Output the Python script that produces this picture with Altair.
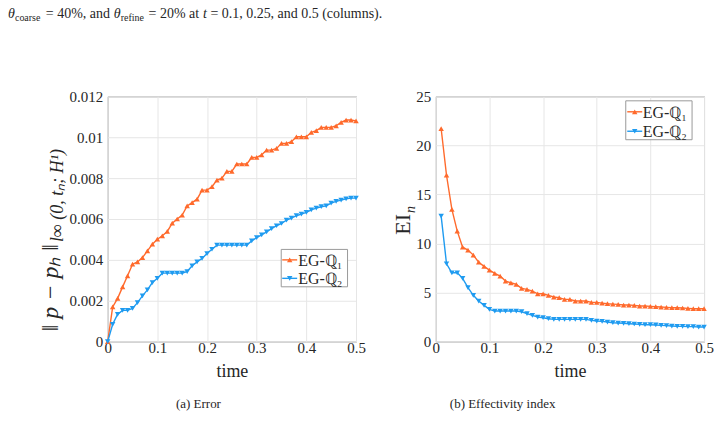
import altair as alt
import pandas as pd

# ---- data ---------------------------------------------------------------
time_err = [0.00, 0.01, 0.02, 0.03, 0.04, 0.05, 0.06, 0.07, 0.08, 0.09,
            0.10, 0.11, 0.12, 0.13, 0.14, 0.15, 0.16, 0.17, 0.18, 0.19,
            0.20, 0.21, 0.22, 0.23, 0.24, 0.25, 0.26, 0.27, 0.28, 0.29,
            0.30, 0.31, 0.32, 0.33, 0.34, 0.35, 0.36, 0.37, 0.38, 0.39,
            0.40, 0.41, 0.42, 0.43, 0.44, 0.45, 0.46, 0.47, 0.48, 0.49,
            0.50]

err_q1 = [0.0, 0.0017, 0.00212, 0.00268, 0.00322, 0.00379, 0.0039, 0.00411, 0.00444, 0.00477,
          0.00501, 0.00518, 0.00539, 0.0058, 0.006, 0.00619, 0.00664, 0.0068, 0.00697, 0.00741,
          0.00741, 0.00758, 0.0079, 0.008, 0.00833, 0.00833, 0.00869, 0.00869, 0.00869, 0.00901,
          0.00901, 0.00914, 0.00937, 0.00937, 0.00945, 0.0097, 0.0097, 0.00978, 0.01002, 0.01002,
          0.01002, 0.01024, 0.01032, 0.01048, 0.01048, 0.01048, 0.01056, 0.01073, 0.01084, 0.01084,
          0.0108]

err_q2 = [0.0, 0.00085, 0.00134, 0.00153, 0.00153, 0.00163, 0.00191, 0.00224, 0.00253, 0.00289,
          0.0031, 0.00335, 0.00335, 0.00335, 0.00335, 0.00335, 0.00343, 0.00371, 0.0039, 0.00407,
          0.00431, 0.00452, 0.00472, 0.00472, 0.00472, 0.00472, 0.00472, 0.00472, 0.00472, 0.00493,
          0.00509, 0.00522, 0.00537, 0.00553, 0.00567, 0.00578, 0.00594, 0.00604, 0.00616, 0.00624,
          0.00632, 0.00645, 0.00653, 0.0066, 0.00664, 0.00678, 0.00686, 0.00692, 0.00699, 0.00702,
          0.00702]

time_ei = time_err[1:]

ei_q1 = [21.7, 16.96, 13.47, 11.26, 9.63, 9.33, 8.82, 8.1, 7.67, 7.29,
         6.95, 6.68, 6.17, 6.0, 5.83, 5.43, 5.33, 5.16, 4.88, 4.88,
         4.72, 4.55, 4.48, 4.31, 4.31, 4.14, 4.14, 4.14, 4.0, 4.0,
         3.93, 3.87, 3.83, 3.8, 3.73, 3.73, 3.7, 3.63, 3.63, 3.6,
         3.56, 3.53, 3.49, 3.46, 3.46, 3.43, 3.39, 3.36, 3.36, 3.36]

ei_q2 = [12.79, 7.94, 7.02, 7.02, 6.45, 5.5, 4.72, 4.14, 3.7, 3.29,
         3.12, 3.12, 3.12, 3.12, 3.12, 3.05, 2.85, 2.68, 2.51, 2.44,
         2.34, 2.27, 2.27, 2.27, 2.27, 2.27, 2.27, 2.27, 2.17, 2.1,
         2.07, 2.0, 1.93, 1.9, 1.87, 1.83, 1.8, 1.76, 1.73, 1.73,
         1.7, 1.66, 1.63, 1.59, 1.56, 1.56, 1.53, 1.53, 1.49, 1.49]

series_names = ["EG-ℚ₁", "EG-ℚ₂"]
series_colors = ["#FF6A2C", "#1F9BF0"]
series_shapes = ["triangle-up", "triangle-down"]

x_ticks = [0, 0.1, 0.2, 0.3, 0.4, 0.5]
err_ticks = [0, 0.002, 0.004, 0.006, 0.008, 0.01, 0.012]
ei_ticks = [0, 5, 10, 15, 20, 25]

# ---- styling ------------------------------------------------------------
SERIF = "Liberation Serif"
INK = "#262626"
NB = "\u00a0"  # kept spaces inside text pieces
ONE = alt.Data(values=[{}])


def long_table(t, a, b):
    return pd.DataFrame({
        "t": list(t) + list(t),
        "value": list(a) + list(b),
        "series": [series_names[0]] * len(t) + [series_names[1]] * len(t),
    })


def text(content, x, y, size, angle=0, align="left", baseline="alphabetic",
         style="normal"):
    return alt.Chart(ONE).mark_text(
        text=content, font=SERIF, fontSize=size, fontStyle=style, angle=angle,
        align=align, baseline=baseline, color=INK,
    ).encode(x=alt.value(x), y=alt.value(y))


def corner(x, y):
    # invisible point that pins the outer edge of the figure
    return alt.Chart(ONE).mark_rule(opacity=0, strokeWidth=0.01).encode(
        x=alt.value(x), x2=alt.value(x), y=alt.value(y), y2=alt.value(y))


def key_box(x0, x1, y0, y1, line_x0, line_x1, rows, label_x):
    """Boxed key: a line with its marker, then the series name, one row each."""
    parts = [alt.Chart(ONE).mark_rect(fill="white", stroke="#9a9a9a", strokeWidth=1).encode(
        x=alt.value(x0), x2=alt.value(x1), y=alt.value(y0), y2=alt.value(y1))]
    for name, colr, shape, ry in zip(series_names, series_colors, series_shapes, rows):
        parts.append(alt.Chart(ONE).mark_rule(color=colr, strokeWidth=1.4).encode(
            x=alt.value(line_x0), x2=alt.value(line_x1), y=alt.value(ry)))
        parts.append(alt.Chart(ONE).mark_point(
            shape=shape, filled=True, size=30, opacity=1, color=colr).encode(
            x=alt.value((line_x0 + line_x1) / 2), y=alt.value(ry)))
        parts.append(text(name, label_x, ry + 1, 16, baseline="middle"))
    return parts


def panel(df, y_domain, y_ticks, y_fmt, width, extras):
    x_enc = alt.X("t:Q", scale=alt.Scale(domain=[0, 0.5], nice=False, zero=False),
                  axis=alt.Axis(values=x_ticks, format=".1~f", title="time",
                                labelFont=SERIF, titleFont=SERIF, labelFlush=False))
    y_enc = alt.Y("value:Q", scale=alt.Scale(domain=y_domain, nice=False),
                  axis=alt.Axis(values=y_ticks, format=y_fmt, title=None,
                                labelFont=SERIF, labelFlush=False))
    color_scale = alt.Scale(domain=series_names, range=series_colors)
    base = alt.Chart(df).encode(x=x_enc, y=y_enc)

    lines = base.mark_line(strokeWidth=1.4).encode(
        color=alt.Color("series:N", scale=color_scale, legend=None))
    markers = [
        base.transform_filter(alt.datum.series == name).mark_point(
            shape=shape, filled=True, size=30, opacity=1, color=colr)
        for name, colr, shape in zip(series_names, series_colors, series_shapes)
    ]
    return alt.layer(lines, *markers, *extras).properties(width=width, height=246)


# left panel: error norm
err_extras = key_box(174, 240.5, 153.5, 191, 175, 190, [164, 182.5], 191) + [
    corner(-107, -95),
    text("‖" + NB + "p" + NB + "−" + NB + "pₕ" + NB + "‖", -50, 148, 24,
         angle=270, align="right", style="italic"),
    text("l∞" + NB + "(0," + NB + "tₙ;" + NB + "H¹)", -45, 146, 18,
         angle=270, align="left", style="italic"),
    text("(a) Error", 91, 313, 13, align="center"),
    # caption line above the panels
    text("θ", -100, -79, 14, style="italic"),
    text("coarse", -93, -76, 10),
    text("=" + NB + "40%," + NB + "and", -62, -79, 14),
    text("θ", 6, -79, 14, style="italic"),
    text("refine", 13, -76, 10),
    text("=" + NB + "20%" + NB + "at", 41, -79, 14),
    text("t", 95.5, -79, 14, style="italic"),
    text("=" + NB + "0.1," + NB + "0.25," + NB + "and" + NB + "0.5" + NB + "(columns).",
         103, -79, 14),
]
left = panel(long_table(time_err, err_q1, err_q2), [0, 0.012], err_ticks, ".3~f",
             249, err_extras)

# right panel: effectivity index
ei_extras = key_box(190.5, 257, 4.5, 43.5, 192, 207, [15.5, 35], 207.5) + [
    corner(284, 340),
    text("EI", -26, 118, 22, angle=270, align="right"),
    text("n", -21, 117, 14, angle=270, align="left", style="italic"),
    text("(b) Effectivity index", 67, 313, 13, align="center"),
]
right = panel(long_table(time_ei, ei_q1, ei_q2), [0, 25], ei_ticks, "d",
              269, ei_extras)

chart = alt.hconcat(left, right, spacing=80, bounds="flush").resolve_scale(
    color="independent",
).properties(
    padding=0,
).configure(
    background="white",
).configure_view(
    stroke="#8a8a8a", strokeWidth=1,
).configure_axis(
    domain=False, ticks=False, tickSize=0, grid=True, gridColor="#e6e6e6", gridWidth=1,
    labelFont=SERIF, labelFontSize=15, labelColor=INK, labelFlush=False,
    titleFont=SERIF, titleFontSize=18, titleFontWeight="normal", titleColor=INK,
).configure_axisX(
    labelPadding=-1, titlePadding=7,
).configure_axisY(
    labelPadding=5,
)

chart.save("out.html", embed_options={"renderer": "svg", "actions": False})
